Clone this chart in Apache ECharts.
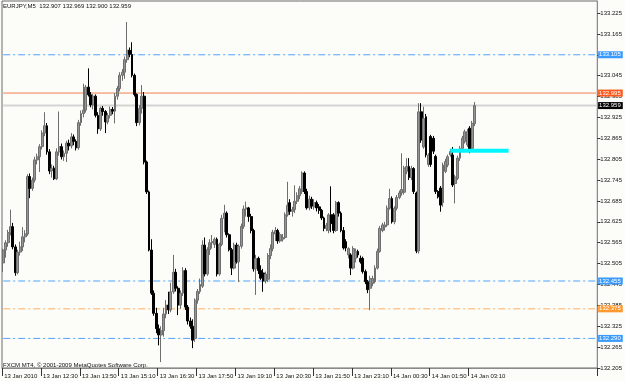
<!DOCTYPE html>
<html>
<head>
<meta charset="utf-8">
<script src="https://cdn.jsdelivr.net/npm/echarts@6/dist/echarts.min.js"></script>
<style>
html,body{margin:0;padding:0;background:#fcfdf9;}
#chart{width:625px;height:381px;}
</style>
</head>
<body>
<div id="chart"></div>
<script>
// ---- data (EURJPY, M5) ----
const symbolName = 'EURJPY,M5';
const copyright = 'FXCM MT4, \u00a9 2001-2009 MetaQuotes Software Corp.';
const xTickLabels = ['13 Jan 2010','13 Jan 12:30','13 Jan 13:50','13 Jan 15:10','13 Jan 16:30','13 Jan 17:50','13 Jan 19:10','13 Jan 20:30','13 Jan 21:50','13 Jan 23:10','14 Jan 00:30','14 Jan 01:50','14 Jan 03:10'];
const opens = [
132.507,132.544,132.565,132.594,132.611,132.553,132.479,132.538,132.553,132.582,
132.590,132.755,132.721,132.745,132.803,132.812,132.841,132.880,132.901,132.826,
132.771,132.779,132.749,132.826,132.841,132.812,132.822,132.851,132.843,132.869,
132.856,132.838,132.910,132.936,132.946,133.012,132.990,132.961,132.986,132.931,
132.892,132.951,132.942,132.912,132.931,132.948,132.943,132.986,133.008,133.046,
133.055,133.091,133.118,133.106,133.046,132.991,132.910,132.951,132.986,132.797,
132.711,132.544,132.420,132.362,132.318,132.300,132.312,132.360,132.386,132.372,
132.424,132.480,132.434,132.386,132.420,132.485,132.380,132.340,132.325,132.290,
132.400,132.425,132.440,132.558,132.475,132.545,132.565,132.560,132.575,132.475,
132.560,132.635,132.650,132.588,132.545,132.492,132.558,132.510,132.555,132.612,
132.662,132.665,132.640,132.600,132.490,132.520,132.485,132.478,132.455,132.460,
132.528,132.548,132.590,132.600,132.570,132.575,132.580,132.645,132.680,132.655,
132.660,132.684,132.700,132.712,132.765,132.712,132.665,132.690,132.668,132.680,
132.668,132.658,132.636,132.606,132.600,132.645,132.645,132.600,132.680,132.650,
132.600,132.568,132.530,132.530,132.492,132.520,132.540,132.520,132.520,132.482,
132.453,132.434,132.448,132.453,132.492,132.540,132.600,132.610,132.616,132.664,
132.692,132.625,132.664,132.695,132.708,132.710,132.770,132.784,132.752,132.778,
132.708,132.541,132.941,132.840,132.927,132.790,132.870,132.865,132.813,132.712,
132.722,132.680,132.770,132.788,132.817,132.817,132.735,132.750,132.808,132.836,
132.855,132.846,132.894,132.836,132.907];
const highs = [
132.548,132.572,132.602,132.660,132.622,132.560,132.545,132.568,132.610,132.601,
132.762,132.764,132.752,132.812,132.821,132.848,132.888,132.940,132.909,132.834,
132.790,132.786,132.836,132.942,132.850,132.830,132.858,132.861,132.880,132.876,
132.862,132.918,132.945,133.022,133.018,133.066,132.998,132.992,132.991,132.940,
132.956,132.958,132.946,132.938,132.956,132.955,132.995,133.015,133.055,133.064,
133.100,133.199,133.126,133.141,133.051,132.994,132.960,133.018,132.998,132.801,
132.715,132.575,132.428,132.378,132.330,132.325,132.378,132.400,132.424,132.450,
132.530,132.490,132.440,132.428,132.495,132.492,132.386,132.350,132.345,132.405,
132.432,132.462,132.572,132.580,132.552,132.575,132.587,132.580,132.580,132.565,
132.645,132.674,132.655,132.592,132.550,132.565,132.565,132.560,132.620,132.672,
132.683,132.668,132.648,132.605,132.530,132.525,132.500,132.490,132.482,132.535,
132.560,132.602,132.610,132.605,132.595,132.590,132.652,132.740,132.690,132.668,
132.730,132.710,132.728,132.770,132.770,132.720,132.700,132.697,132.690,132.686,
132.676,132.662,132.640,132.622,132.650,132.727,132.650,132.685,132.684,132.655,
132.610,132.575,132.552,132.535,132.555,132.548,132.545,132.528,132.525,132.488,
132.458,132.470,132.470,132.500,132.548,132.613,132.622,132.625,132.672,132.720,
132.698,132.670,132.702,132.715,132.822,132.786,132.808,132.808,132.786,132.782,
132.712,132.966,132.966,132.956,132.935,132.822,132.875,132.872,132.818,132.716,
132.728,132.795,132.806,132.818,132.835,132.840,132.760,132.815,132.843,132.872,
132.890,132.892,132.900,132.915,132.969];
const lows = [
132.481,132.522,132.553,132.586,132.546,132.470,132.474,132.528,132.541,132.566,
132.585,132.693,132.714,132.738,132.790,132.768,132.833,132.871,132.818,132.762,
132.752,132.745,132.745,132.815,132.804,132.800,132.797,132.830,132.836,132.845,
132.830,132.832,132.901,132.925,132.939,132.985,132.954,132.948,132.925,132.878,
132.886,132.930,132.880,132.905,132.922,132.934,132.908,132.976,133.000,133.030,
133.036,133.082,133.098,133.040,132.985,132.900,132.902,132.936,132.790,132.705,
132.540,132.415,132.355,132.305,132.270,132.222,132.295,132.348,132.360,132.365,
132.418,132.425,132.357,132.375,132.412,132.372,132.330,132.318,132.262,132.280,
132.390,132.418,132.435,132.468,132.470,132.530,132.548,132.550,132.468,132.470,
132.555,132.595,132.580,132.540,132.472,132.488,132.505,132.452,132.548,132.605,
132.640,132.625,132.592,132.482,132.415,132.475,132.458,132.424,132.448,132.452,
132.518,132.540,132.570,132.562,132.565,132.568,132.575,132.640,132.645,132.640,
132.650,132.676,132.690,132.705,132.705,132.660,132.658,132.662,132.660,132.655,
132.648,132.630,132.598,132.598,132.592,132.595,132.592,132.596,132.640,132.595,
132.545,132.540,132.520,132.472,132.488,132.508,132.522,132.505,132.476,132.446,
132.420,132.371,132.440,132.448,132.488,132.536,132.595,132.600,132.610,132.660,
132.620,132.618,132.658,132.690,132.700,132.703,132.762,132.745,132.745,132.705,
132.535,132.534,132.852,132.835,132.810,132.783,132.783,132.820,132.705,132.692,
132.654,132.668,132.765,132.782,132.812,132.725,132.678,132.745,132.800,132.830,
132.850,132.840,132.822,132.830,132.900];
const closes = [
132.544,132.565,132.594,132.611,132.553,132.479,132.538,132.553,132.582,132.590,
132.755,132.721,132.745,132.803,132.812,132.841,132.880,132.901,132.826,132.771,
132.779,132.749,132.826,132.841,132.812,132.822,132.851,132.843,132.869,132.856,
132.838,132.910,132.936,132.946,133.012,132.990,132.961,132.986,132.931,132.892,
132.951,132.942,132.912,132.931,132.948,132.943,132.986,133.008,133.046,133.055,
133.091,133.118,133.106,133.046,132.991,132.910,132.951,132.986,132.797,132.711,
132.544,132.420,132.362,132.318,132.300,132.312,132.360,132.386,132.372,132.424,
132.480,132.434,132.386,132.420,132.485,132.380,132.340,132.325,132.285,132.400,
132.425,132.445,132.558,132.475,132.545,132.565,132.568,132.575,132.475,132.560,
132.635,132.650,132.588,132.545,132.492,132.558,132.510,132.555,132.612,132.662,
132.665,132.640,132.600,132.490,132.520,132.485,132.463,132.455,132.475,132.528,
132.548,132.595,132.600,132.570,132.588,132.580,132.645,132.672,132.655,132.660,
132.684,132.700,132.720,132.765,132.712,132.665,132.690,132.670,132.680,132.665,
132.658,132.636,132.606,132.615,132.645,132.620,132.600,132.680,132.650,132.600,
132.550,132.550,132.548,132.492,132.548,132.540,132.530,132.510,132.482,132.453,
132.430,132.462,132.462,132.492,132.540,132.606,132.616,132.616,132.664,132.692,
132.625,132.664,132.695,132.708,132.718,132.780,132.784,132.752,132.778,132.712,
132.541,132.941,132.860,132.922,132.817,132.817,132.790,132.828,132.712,132.697,
132.673,132.788,132.798,132.812,132.827,132.731,132.754,132.808,132.836,132.865,
132.884,132.884,132.827,132.908,132.959];

// horizontal price levels drawn on the chart
const levelPrices = [133.105, 132.995, 132.959, 132.455, 132.375, 132.290];
const levelKinds  = ['blue', 'ask', 'bid', 'blue', 'orange', 'blue'];
// cyan segment (bar index range, price)
const segmentBars = [184, 208];
const segmentPrice = 132.829;

// ---- axis setup ----
const BASE = 132.205;          // bottom tick value
const TOP = 133.2595;          // price at top edge of plot
const TICK_STEP = 0.06;
const BARS_PER_LABEL = 16;
const TOTAL_SLOTS = 245;       // includes empty chart-shift space at the right

const months = ['Jan','Feb','Mar','Apr','May','Jun','Jul','Aug','Sep','Oct','Nov','Dec'];
const startMs = Date.UTC(2010, 0, 13, 11, 10);
const categories = [];
for (let i = 0; i < TOTAL_SLOTS; i++) {
  const d = new Date(startMs + i * 5 * 60000);
  const hh = String(d.getUTCHours()).padStart(2, '0');
  const mm = String(d.getUTCMinutes()).padStart(2, '0');
  categories.push(d.getUTCDate() + ' ' + months[d.getUTCMonth()] + ' ' + hh + ':' + mm);
}

const candleData = opens.map((o, i) => [o - BASE, closes[i] - BASE, lows[i] - BASE, highs[i] - BASE]);

const FONT = "'Liberation Sans Narrow','Liberation Sans',Arial,sans-serif";
const styleOf = {
  blue:   { line: { color: '#4fa3ff', width: 1, type: [7, 3, 2, 3] }, bg: '#3a9bff', fg: '#ffffff' },
  ask:    { line: { color: '#f07f50', width: 1, type: 'solid' },       bg: '#ff5a1e', fg: '#ffffff' },
  bid:    { line: { color: '#d4d4d4', width: 2, type: 'solid' },       bg: '#000000', fg: '#ffffff' },
  orange: { line: { color: '#ffad5c', width: 1, type: [7, 3, 2, 3] }, bg: '#ff9a30', fg: '#ffffff' }
};

const firstCat = categories[0];
const lastCat = categories[TOTAL_SLOTS - 1];
const levelSeries = levelPrices.map((p, k) => {
  const s = styleOf[levelKinds[k]];
  return {
    type: 'line', silent: true, z: 1,
    data: [[firstCat, p - BASE], [lastCat, p - BASE]],
    showSymbol: false, symbol: 'none',
    lineStyle: s.line,
    itemStyle: { color: s.line.color },
    endLabel: {
      show: true, distance: 2, formatter: p.toFixed(3),
      backgroundColor: s.bg, color: s.fg,
      fontSize: 6, fontFamily: FONT, lineHeight: 7, padding: [0, 2, 0, 1]
    }
  };
});
const segmentSeries = {
  type: 'line', silent: true, z: 4,
  data: [[categories[segmentBars[0]], segmentPrice - BASE], [categories[segmentBars[1]], segmentPrice - BASE]],
  showSymbol: false, symbol: 'none',
  lineStyle: { color: '#00f5ff', width: 4, type: 'solid' }
};

const isLabelIdx = (idx) => idx % BARS_PER_LABEL === 0 && (idx / BARS_PER_LABEL) < xTickLabels.length;
const last = opens.length - 1;
const headerText = symbolName + '  ' + [opens[last], highs[last], lows[last], closes[last]].map(v => v.toFixed(3)).join(' ');

const chart = echarts.init(document.getElementById('chart'), null, { renderer: 'canvas' });
chart.setOption({
  animation: false,
  backgroundColor: '#fcfdf9',
  grid: { left: 2, right: 23, top: 1, bottom: 13, show: true, borderColor: '#6a6a6a', borderWidth: 1, backgroundColor: 'transparent' },
  xAxis: {
    type: 'category', data: categories, boundaryGap: true,
    axisLine: { show: true, lineStyle: { color: '#8a8a8a' } },
    axisTick: { show: true, length: 8, interval: (idx) => isLabelIdx(idx), lineStyle: { color: '#333' } },
    axisLabel: {
      interval: (idx) => isLabelIdx(idx), align: 'left', margin: 5, padding: [0, 0, 0, 1],
      fontSize: 6, fontFamily: FONT, color: '#111',
      formatter: (v, idx) => isLabelIdx(idx) ? xTickLabels[idx / BARS_PER_LABEL] : ''
    },
    splitLine: { show: false }
  },
  yAxis: {
    type: 'value', position: 'right', min: 0, max: TOP - BASE, interval: TICK_STEP,
    axisLine: { show: true, lineStyle: { color: '#8a8a8a' } },
    axisTick: { show: true, length: 3, lineStyle: { color: '#333' } },
    axisLabel: {
      margin: 3, fontSize: 6, fontFamily: FONT, color: '#111', showMaxLabel: false,
      formatter: (v) => {
        const k = v / TICK_STEP;
        if (Math.abs(k - Math.round(k)) > 1e-6) return '';
        return (BASE + v).toFixed(3);
      }
    },
    splitLine: { show: false }
  },
  series: levelSeries.concat([{
    type: 'candlestick',
    data: candleData,
    barWidth: 2.4,
    clip: false,
    silent: true,
    z: 3,
    itemStyle: { color: '#949494', color0: '#000000', borderColor: '#6e6e6e', borderColor0: '#000000', borderWidth: 1 }
  }, segmentSeries]),
  graphic: [
    { type: 'text', left: 3, top: 3, style: { text: headerText, fontSize: 6, fontFamily: FONT, fill: '#111' } },
    { type: 'text', left: 3, top: 362, style: { text: copyright, fontSize: 6, fontFamily: FONT, fill: '#111' } }
  ]
});
</script>
</body>
</html>
